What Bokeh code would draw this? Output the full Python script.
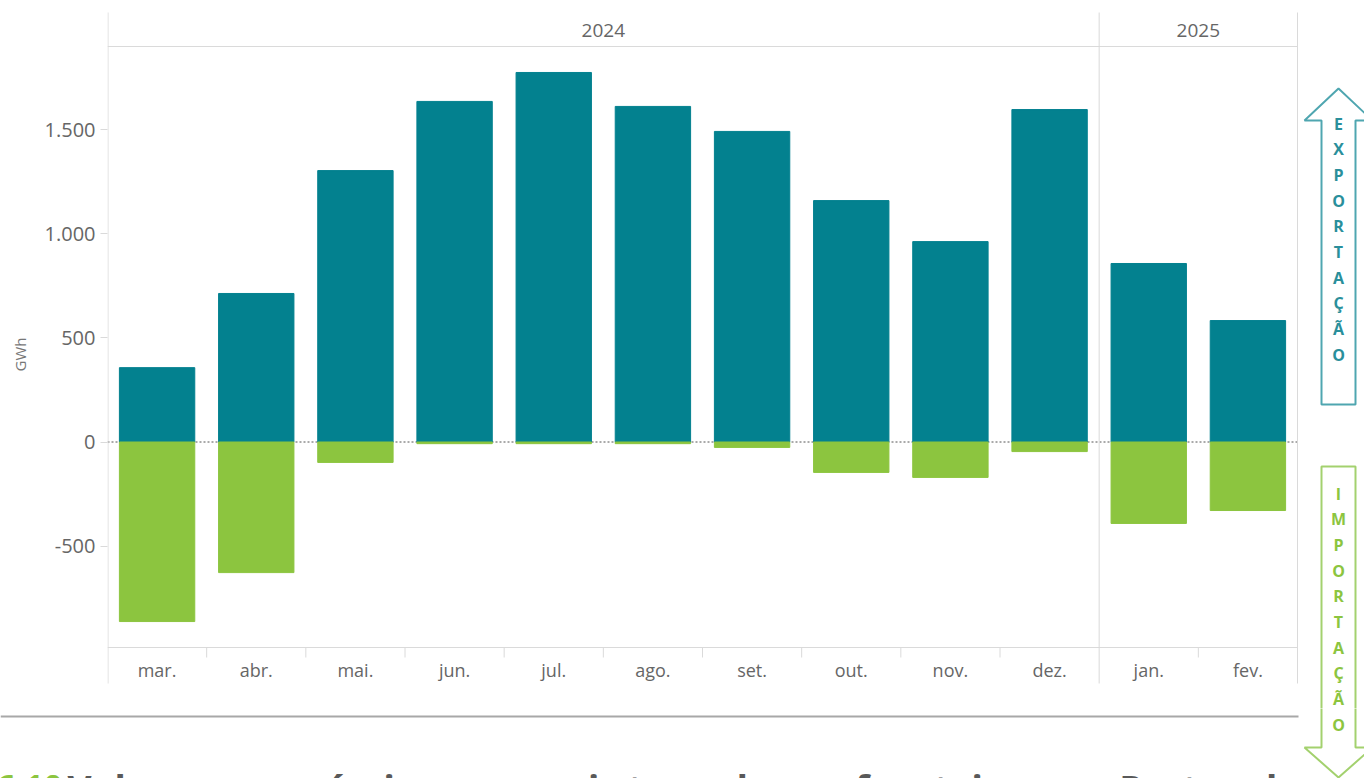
from bokeh.plotting import figure
from bokeh.layouts import row, column
from bokeh.models import Range1d, FixedTicker
from bokeh.core.properties import value
from bokeh.embed import file_html
from bokeh.resources import INLINE

# ---------------- data ----------------
months = ["mar.", "abr.", "mai.", "jun.", "jul.", "ago.", "set.", "out.", "nov.", "dez.", "jan.", "fev."]
years = ["2024", "2024", "2024", "2024", "2024", "2024", "2024", "2024", "2024", "2024", "2025", "2025"]
exportacao = [357, 713, 1303, 1635, 1774, 1611, 1491, 1159, 962, 1596, 857, 583]
importacao = [-862, -627, -98, -8, -8, -8, -26, -146, -170, -46, -391, -329]
y_ticks = [-500, 0, 500, 1000, 1500]
y_tick_labels = ["-500", "0", "500", "1.000", "1.500"]
export_letters = list("EXPORTAÇÃO")
import_letters = list("IMPORTAÇÃO")
title_num = "6.10"
title_text = "Volumes económicos mensais trocados na fronteira com Portugal"

# ---------------- style ----------------
TEAL = "#03818f"
GREEN = "#8cc53f"
GRID = "#dadada"
TXT = "#666666"
FONT = "Open Sans"

n = len(months)
xs = [i + 0.5 for i in range(n)]

W, H = 1364, 778
MAIN_W, MAIN_H = 1298, 708

# geometry of main figure (window pixels; frame spans full figure height)
PX_PER_UNIT = 0.2083
ZERO_PX = 441.5


def yv(px):
    return (ZERO_PX - px) / PX_PER_UNIT


y_top = yv(0)
y_bot = yv(MAIN_H)
y_frame_top = yv(12)
y_frame_bot = yv(683)
y_hdr = yv(46)
y_axis = yv(647)
y_month = yv(669)
y_year = yv(30)
y_tick_end = yv(657)

p = figure(width=MAIN_W, height=MAIN_H, output_backend="svg", toolbar_location=None,
           x_range=Range1d(0, 1191 / (1190 / 12)), y_range=Range1d(y_bot, y_top),
           x_axis_location=None, min_border_left=107, min_border_right=0,
           min_border_top=0, min_border_bottom=0)
p.outline_line_color = None
p.xgrid.visible = False
p.ygrid.visible = False

ax = p.yaxis[0]
ax.ticker = FixedTicker(ticks=y_ticks, minor_ticks=[])
ax.major_label_overrides = {t: l for t, l in zip(y_ticks, y_tick_labels)}
ax.axis_line_color = None
ax.major_tick_line_color = GRID
ax.major_tick_out = 7
ax.major_tick_in = 0
ax.minor_tick_line_color = None
ax.major_label_text_font = FONT
ax.major_label_text_font_size = "20px"
ax.major_label_text_color = TXT
ax.major_label_standoff = 5
ax.axis_label = "GWh"
ax.axis_label_text_font = FONT
ax.axis_label_text_font_size = "15px"
ax.axis_label_text_font_style = "normal"
ax.axis_label_text_color = "#777777"
ax.axis_label_standoff = 12

# zero dashed line (under bars)
p.segment(x0=[0], x1=[12], y0=[0], y1=[0], line_color="#555555", line_width=1, line_dash="2 2")

# bars
p.vbar(x=xs, width=0.76, top=exportacao, bottom=0, color=TEAL)
p.vbar(x=xs, width=0.76, top=0, bottom=importacao, color=GREEN)

# frame lines
p.segment(x0=[0, 0], x1=[12, 12], y0=[y_hdr, y_axis], y1=[y_hdr, y_axis], line_color=GRID, line_width=1)
year_breaks = [i for i in range(1, n) if years[i] != years[i - 1]]
vlines = [0.005] + year_breaks + [n]
p.segment(x0=vlines, x1=vlines, y0=[y_frame_bot] * len(vlines), y1=[y_frame_top] * len(vlines),
          line_color=GRID, line_width=1)
ticks_x = [i for i in range(1, n) if i not in year_breaks]
p.segment(x0=ticks_x, x1=ticks_x, y0=[y_axis] * len(ticks_x), y1=[y_tick_end] * len(ticks_x),
          line_color=GRID, line_width=1)

# month labels
p.text(x=xs, y=[y_month] * n, text=months, text_align="center", text_baseline="middle",
       text_font=value(FONT), text_font_size="18px", text_color=TXT)

# year labels
uy = []
for y in years:
    if y not in uy:
        uy.append(y)
ycent = []
for y in uy:
    idx = [i for i, v in enumerate(years) if v == y]
    ycent.append((idx[0] + idx[-1] + 1) / 2)
p.text(x=ycent, y=[y_year] * len(uy), text=uy, text_align="center", text_baseline="middle",
       text_font=value(FONT), text_font_size="19px", text_color=TXT)


def blank(width, height, xr, yr):
    f = figure(width=width, height=height, output_backend="svg", toolbar_location=None,
               x_range=Range1d(*xr), y_range=Range1d(*yr),
               x_axis_location=None, y_axis_location=None,
               min_border=0, min_border_left=0, min_border_right=0,
               min_border_top=0, min_border_bottom=0)
    f.outline_line_color = None
    f.xgrid.visible = False
    f.ygrid.visible = False
    return f


# arrow strip (right of main plot) and bottom strip share window pixel coordinates
a = blank(W - MAIN_W, MAIN_H, (MAIN_W, W), (MAIN_H, 0))
b = blank(W, H - MAIN_H, (0, W), (H, MAIN_H))

cx = 1338
ex = [cx, cx + 34, cx + 17, cx + 17, cx - 17, cx - 17, cx - 34]
ey = [88, 120, 120, 404, 404, 120, 120]
ix = [cx - 17, cx + 17, cx + 17, cx + 34, cx, cx - 34, cx - 17]
iy = [466, 466, 747, 747, 777, 747, 747]
step = 25.7
exp_y = [123 + i * step for i in range(len(export_letters))]
imp_y = [493 + i * step for i in range(len(import_letters))]
for f, lo, hi in ((a, 0, MAIN_H), (b, MAIN_H, H)):
    f.patch(ex, ey, fill_color="white", line_color="#4fa6b0", line_width=2)
    f.patch(ix, iy, fill_color="white", line_color="#a3d16e", line_width=2)
    for letters, ys, col in ((export_letters, exp_y, "#2a8f9b"), (import_letters, imp_y, "#8cc53f")):
        sel = [k for k, yy in enumerate(ys) if lo <= yy < hi]
        if sel:
            f.text(x=[cx] * len(sel), y=[ys[k] for k in sel], text=[letters[k] for k in sel],
                   text_align="center", text_baseline="middle",
                   text_font=value(FONT), text_font_size="16px", text_font_style="bold", text_color=col)

# divider and title
b.segment(x0=[0], x1=[MAIN_W], y0=[716], y1=[716], line_color="#a8a8a8", line_width=2)
b.text(x=[-4], y=[786], text=[title_num], text_align="left", text_baseline="alphabetic",
       text_font=value(FONT), text_font_size="33px", text_font_style="bold", text_color=GREEN)
b.text(x=[67], y=[788], text=[title_text], text_align="left", text_baseline="alphabetic",
       text_font=value(FONT), text_font_size="37px", text_font_style="bold", text_color="#595959")

layout = column(row(p, a), b)
open("out.html", "w").write(file_html(layout, INLINE))
